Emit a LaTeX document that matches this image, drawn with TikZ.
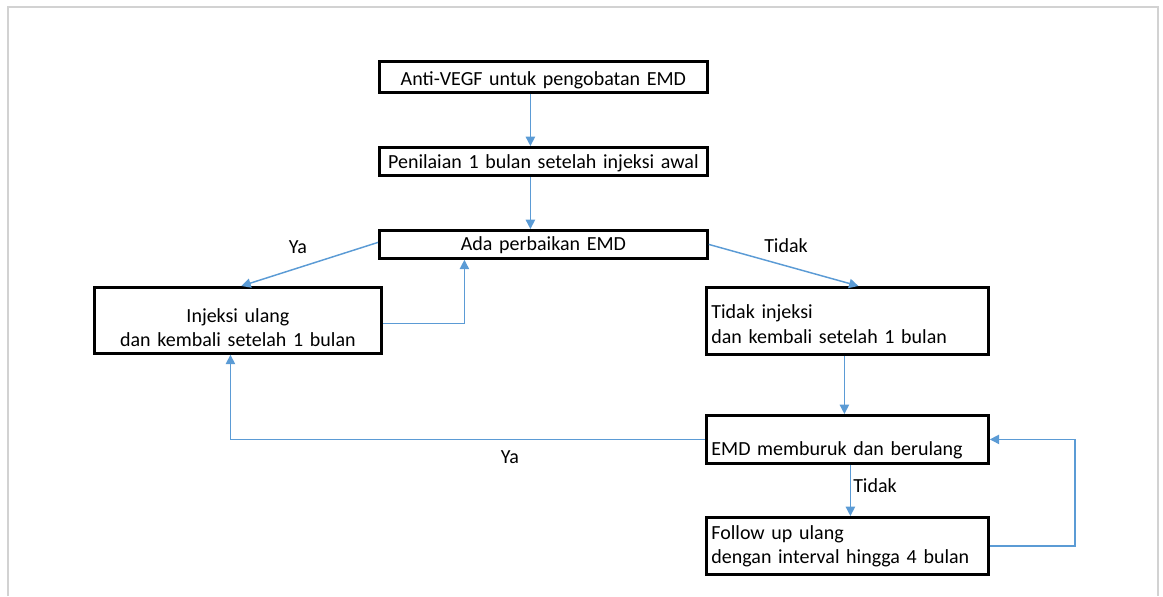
\documentclass[tikz,border=0pt]{standalone}
\usepackage{fontspec}
\setmainfont{Carlito}
\usepackage{tikz}
\usetikzlibrary{arrows.meta}

\definecolor{flowblue}{RGB}{91,155,213}
\definecolor{framegray}{RGB}{210,210,210}

\tikzset{
  box/.style={draw, line width=2.1pt, anchor=north west, inner xsep=3.75pt, inner ysep=0pt,
    font=\fontsize{15}{18.4}\selectfont},
  wide/.style={box, text width=238.5pt, align=center},
  side/.style={box, text width=204pt, align=left},
  flow/.style={draw=flowblue, line width=1.1pt, -{Triangle[length=7pt,width=7pt]}},
  answer/.style={font=\fontsize{15}{18.4}\selectfont}
}

\begin{document}
\begin{tikzpicture}[x=0.75pt, y=-0.75pt]

  \useasboundingbox (0,0) rectangle (1163,596);
  \draw[framegray, line width=0.9pt] (8,596) -- (8,7) -- (1158,7) -- (1158,596);

  % boxes
  \node[wide, text height=18pt, text depth=5.25pt] (treat) at (378,60) {Anti-VEGF untuk pengobatan EMD};
  \node[wide, text height=16pt, text depth=5pt] (assess) at (378,146) {Penilaian 1 bulan setelah injeksi awal};
  \node[wide, text height=15pt, text depth=6pt] (better) at (378,229) {Ada perbaikan EMD};
  \node[box, text width=207.75pt, align=center, text height=26pt, text depth=23.5pt] (reinject) at (93,286)
    {Injeksi ulang\\dan kembali setelah 1 bulan};
  \node[side, text height=23.5pt, text depth=26.8pt] (noinject) at (705,286)
    {Tidak injeksi\\dan kembali setelah 1 bulan};
  \node[side, text height=30.2pt, text depth=5.8pt] (worse) at (705,414) {EMD memburuk dan berulang};
  \node[side, text height=16.3pt, text depth=26.5pt] (follow) at (705,516)
    {Follow up ulang\\dengan interval hingga 4 bulan};

  % answers
  \node[answer] (yes1) at (298,247) {Ya};
  \node[answer] (no1) at (786,246) {Tidak};
  \node[answer] (yes2) at (510,457) {Ya};
  \node[answer] (no2) at (875,486) {Tidak};

  % connectors
  \draw[flow] ([xshift=-9.75pt]treat.south) -- ([xshift=-9.75pt]assess.north);
  \draw[flow] ([xshift=-9.75pt]assess.south) -- ([xshift=-9.75pt]better.north);
  \draw[flow] ([yshift=1.5pt]better.west) -- ([xshift=2.6pt]reinject.north);
  \draw[flow] (better.east) -- ([xshift=8.25pt]noinject.north);
  \draw[flow] ([yshift=-2.25pt]reinject.east) -| ([xshift=-59.25pt]better.south);
  \draw[flow] ([xshift=-2.25pt]noinject.south) -- ([xshift=-2.25pt]worse.north);
  \draw[flow] (worse.west) -| ([xshift=-5.6pt]reinject.south);
  \draw[flow] ([xshift=2.25pt]worse.south) -- ([xshift=2.25pt]follow.north);
  \draw[flow] (follow.east) -- ++(85,0) |- (worse.east);

\end{tikzpicture}
\end{document}
